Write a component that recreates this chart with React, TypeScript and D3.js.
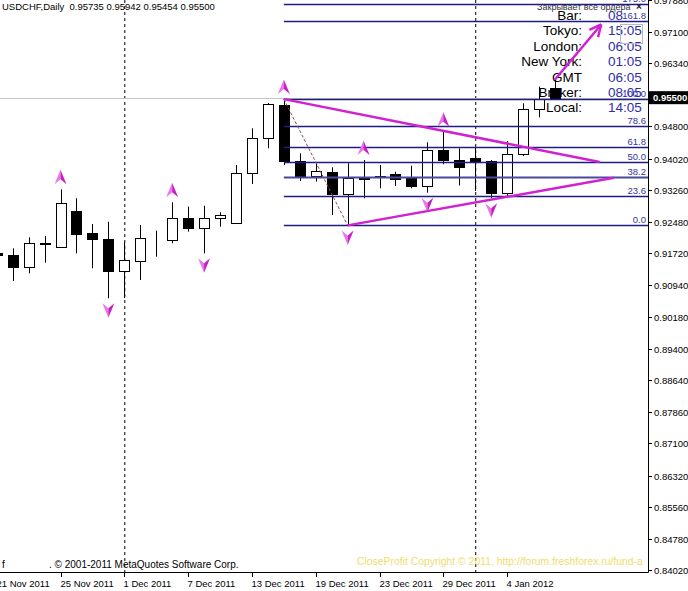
import React, { useRef, useEffect } from 'react';
import * as d3 from 'd3';

// bar dates (weekdays only)
const barDates = [
  '21 Nov 2011', '22 Nov 2011', '23 Nov 2011', '24 Nov 2011', '25 Nov 2011',
  '28 Nov 2011', '29 Nov 2011', '30 Nov 2011', '1 Dec 2011', '2 Dec 2011',
  '5 Dec 2011', '6 Dec 2011', '7 Dec 2011', '8 Dec 2011', '9 Dec 2011',
  '12 Dec 2011', '13 Dec 2011', '14 Dec 2011', '15 Dec 2011', '16 Dec 2011',
  '19 Dec 2011', '20 Dec 2011', '21 Dec 2011', '22 Dec 2011', '23 Dec 2011',
  '26 Dec 2011', '27 Dec 2011', '28 Dec 2011', '29 Dec 2011', '30 Dec 2011',
  '2 Jan 2012', '3 Jan 2012', '4 Jan 2012', '5 Jan 2012', '6 Jan 2012', '9 Jan 2012',
];

const opens = [0.91727, 0.91679, 0.91380, 0.91958, 0.91880, 0.92747, 0.92206, 0.92067, 0.91290, 0.91540,
  0.92043, 0.92043, 0.92570, 0.92327, 0.92570, 0.92463, 0.93678, 0.94513, 0.95322, 0.93962,
  0.93605, 0.93702, 0.93153, 0.93573, 0.93602, 0.93653, 0.93556, 0.93362, 0.94229, 0.93986,
  0.94042, 0.93969, 0.93177, 0.94132, 0.95218, 0.95735];
const highs = [0.91800, 0.91841, 0.92109, 0.92140, 0.93274, 0.93056, 0.92432, 0.92487, 0.91987, 0.92407,
  0.92269, 0.92959, 0.92852, 0.92876, 0.92716, 0.93865, 0.94756, 0.95371, 0.95465, 0.94149,
  0.93906, 0.93809, 0.93906, 0.93986, 0.93865, 0.93702, 0.93848, 0.94416, 0.94674, 0.94270,
  0.94285, 0.93986, 0.94448, 0.95363, 0.95767, 0.95942];
const lows = [0.91606, 0.91047, 0.91234, 0.91492, 0.91873, 0.91720, 0.91356, 0.90627, 0.90634, 0.91071,
  0.91637, 0.91963, 0.92245, 0.91720, 0.92366, 0.92463, 0.93403, 0.94270, 0.93865, 0.93476,
  0.93459, 0.92650, 0.92398, 0.93056, 0.93299, 0.93355, 0.93299, 0.93192, 0.93882, 0.93367,
  0.93233, 0.93056, 0.93112, 0.94083, 0.95023, 0.95454];
const closes = [0.91679, 0.91380, 0.91963, 0.91934, 0.92934, 0.92189, 0.92060, 0.91290, 0.91557, 0.92084,
  0.92031, 0.92570, 0.92327, 0.92570, 0.92650, 0.93663, 0.94513, 0.95347, 0.93969, 0.93566,
  0.93726, 0.93153, 0.93542, 0.93532, 0.93566, 0.93525, 0.93355, 0.94229, 0.93986, 0.93809,
  0.93962, 0.93177, 0.94132, 0.95218, 0.95468, 0.95500];

const priceTicks = ['0.97880', '0.97100', '0.96340', '0.95560', '0.94800', '0.94020', '0.93260', '0.92480',
  '0.91720', '0.90940', '0.90180', '0.89400', '0.88640', '0.87860', '0.87100', '0.86320',
  '0.85560', '0.84780', '0.84020'];

const fractalUp = [4, 11, 18, 23, 28];
const fractalDown = [7, 13, 22, 27, 31];

// fibo from bar 18 high to bar 22 low
const fibLevels = [0, 23.6, 38.2, 50.0, 61.8, 78.6, 100.0, 161.8, 175.0];
const fibHighBar = 18;
const fibLowBar = 22;

// triangle trend lines [barIndex, price]
const upperLine: [number, number][] = [[18, 0.95465], [37.8, 0.93938]];
const lowerLine: [number, number][] = [[22, 0.92398], [38.7, 0.93556]];
const bigArrow: [number, number][] = [[35, 0.95942], [37.9, 0.97278]];

const clockLabels = ['Bar:', 'Tokyo:', 'London:', 'New York:', 'GMT', 'Broker:', 'Local:'];
const clockValues = ['08', '15:05', '06:05', '01:05', '06:05', '08:05', '14:05'];

const App: React.FC = () => {
  const svgRef = useRef<SVGSVGElement | null>(null);
  const width = 688;
  const height = 591;

  useEffect(() => {
    if (!svgRef.current) return;
    const svg = d3.select(svgRef.current);
    svg.selectAll('*').remove();

    const plotRight = 648;
    const plotBottom = 572;
    const font = "'Liberation Sans', Arial, sans-serif";
    const colors = {
      fib: '#1e1e82',
      fibText: '#3434a6',
      magenta: '#d022d0',
      clockText: '#2e2ea8',
      trend: '#8b4a4a',
    };

    const x = d3.scaleLinear().domain([0, 35]).range([-3.3, 555]);
    const y = d3.scaleLinear().domain([0.8402, 0.971]).range([570.3, 31.8]);
    const bodyW = 10;

    svg.attr('width', width).attr('height', height);
    svg.append('rect').attr('width', width).attr('height', height).attr('fill', '#fff');

    svg.append('defs').append('clipPath').attr('id', 'plotclip')
      .append('rect').attr('x', 0).attr('y', 0).attr('width', plotRight).attr('height', plotBottom);

    const g = svg.append('g').attr('clip-path', 'url(#plotclip)');

    // month separators
    barDates.forEach((d, i) => {
      if (i === 0) return;
      const m = d.split(' ')[1];
      const pm = barDates[i - 1].split(' ')[1];
      if (m !== pm) {
        g.append('line')
          .attr('x1', x(i) + 0.5).attr('x2', x(i) + 0.5)
          .attr('y1', 0).attr('y2', plotBottom)
          .attr('stroke', '#000').attr('stroke-width', 1)
          .attr('stroke-dasharray', '3,3');
      }
    });

    // bid line
    const last = closes[closes.length - 1];
    g.append('line')
      .attr('x1', 0).attr('x2', plotRight)
      .attr('y1', Math.round(y(last)) + 0.5).attr('y2', Math.round(y(last)) + 0.5)
      .attr('stroke', '#c4c4c4').attr('stroke-width', 1);

    // clock panel
    clockLabels.forEach((lab, i) => {
      const by = 20 + i * 15.4;
      g.append('text')
        .attr('x', 582).attr('y', by)
        .attr('text-anchor', 'end')
        .attr('font-family', font).attr('font-size', 13.5)
        .attr('fill', '#000')
        .text(lab);
      g.append('text')
        .attr('x', 608).attr('y', by)
        .attr('font-family', font).attr('font-size', 13.5)
        .attr('fill', colors.clockText)
        .text(clockValues[i]);
    });
    g.append('rect')
      .attr('x', 620.5).attr('y', 24.5).attr('width', 22).attr('height', 19)
      .attr('fill', 'none').attr('stroke', '#b8b8c8').attr('stroke-width', 1);
    g.append('text')
      .attr('x', 537).attr('y', 10)
      .attr('font-family', font).attr('font-size', 9)
      .attr('fill', '#333')
      .text('Закрывает все ордера');
    g.append('text')
      .attr('x', 636).attr('y', 10)
      .attr('font-family', font).attr('font-size', 10).attr('font-weight', 'bold')
      .attr('fill', '#222')
      .text('×');

    // candles
    opens.forEach((o, i) => {
      const c = closes[i];
      const cx = Math.round(x(i)) + 0.5;
      g.append('line')
        .attr('x1', cx).attr('x2', cx)
        .attr('y1', y(highs[i])).attr('y2', y(lows[i]))
        .attr('stroke', '#000').attr('stroke-width', 1);
      const top = Math.round(y(Math.max(o, c))) + 0.5;
      const bot = Math.round(y(Math.min(o, c))) + 0.5;
      g.append('rect')
        .attr('x', cx - bodyW / 2).attr('y', top)
        .attr('width', bodyW).attr('height', Math.max(0, bot - top))
        .attr('fill', c >= o ? '#fff' : '#000')
        .attr('stroke', '#000').attr('stroke-width', 1);
    });

    // fibonacci
    const fHigh = highs[fibHighBar];
    const fLow = lows[fibLowBar];
    fibLevels.forEach((lv) => {
      const p = fLow + (fHigh - fLow) * lv / 100;
      const ly = Math.round(y(p)) + 0.5;
      g.append('line')
        .attr('x1', x(fibHighBar)).attr('x2', plotRight)
        .attr('y1', ly).attr('y2', ly)
        .attr('stroke', lv === 38.2 ? '#4a4a9a' : colors.fib)
        .attr('stroke-width', lv === 38.2 ? 2 : 1.3);
      g.append('text')
        .attr('x', 646).attr('y', ly - 2.5)
        .attr('text-anchor', 'end')
        .attr('font-family', font).attr('font-size', 9.5)
        .attr('fill', colors.fibText)
        .text(lv.toFixed(1));
    });
    g.append('line')
      .attr('x1', x(fibHighBar)).attr('y1', y(fHigh))
      .attr('x2', x(fibLowBar)).attr('y2', y(fLow))
      .attr('stroke', colors.trend).attr('stroke-width', 1)
      .attr('stroke-dasharray', '3,2');

    // triangle
    [upperLine, lowerLine].forEach((ln) => {
      g.append('line')
        .attr('x1', x(ln[0][0])).attr('y1', y(ln[0][1]))
        .attr('x2', x(ln[1][0])).attr('y2', y(ln[1][1]))
        .attr('stroke', colors.magenta).attr('stroke-width', 2.5);
    });

    // fractals
    function fractal(cx: number, cy: number, up: boolean) {
      const s = up ? 1 : -1;
      const fg = g.append('g').attr('transform', `translate(${cx},${cy}) scale(1,${s})`);
      fg.append('path').attr('d', 'M0,-7.5 L0,2 L-6,7 Z').attr('fill', '#e878e8');
      fg.append('path').attr('d', 'M0,-7.5 L6,7 L0,2 Z').attr('fill', '#c81ec8');
    }
    fractalUp.forEach((i) => fractal(x(i), y(highs[i]) - 12, true));
    fractalDown.forEach((i) => fractal(x(i), y(lows[i]) + 12, false));

    // big arrow
    const ax1 = x(bigArrow[0][0]), ay1 = y(bigArrow[0][1]);
    const ax2 = x(bigArrow[1][0]), ay2 = y(bigArrow[1][1]);
    g.append('line')
      .attr('x1', ax1).attr('y1', ay1).attr('x2', ax2).attr('y2', ay2)
      .attr('stroke', colors.magenta).attr('stroke-width', 2.5);
    const ang = Math.atan2(ay2 - ay1, ax2 - ax1);
    [-0.45, 0.45].forEach((d) => {
      g.append('line')
        .attr('x1', ax2).attr('y1', ay2)
        .attr('x2', ax2 - 13 * Math.cos(ang + d)).attr('y2', ay2 - 13 * Math.sin(ang + d))
        .attr('stroke', colors.magenta).attr('stroke-width', 2.5);
    });

    // axes
    svg.append('line')
      .attr('x1', plotRight + 0.5).attr('x2', plotRight + 0.5)
      .attr('y1', 0).attr('y2', plotBottom + 0.5)
      .attr('stroke', '#000');
    svg.append('line')
      .attr('x1', 0).attr('x2', plotRight + 0.5)
      .attr('y1', plotBottom + 0.5).attr('y2', plotBottom + 0.5)
      .attr('stroke', '#000');

    const py = y(last);
    priceTicks.forEach((t) => {
      const ty = Math.round(y(+t)) + 0.5;
      svg.append('line')
        .attr('x1', plotRight).attr('x2', plotRight + 4)
        .attr('y1', ty).attr('y2', ty)
        .attr('stroke', '#000');
      // label hidden under the current price box
      if (Math.abs(ty - py) < 10) return;
      svg.append('text')
        .attr('x', plotRight + 6).attr('y', ty + 3.5)
        .attr('font-family', font).attr('font-size', 9.5)
        .attr('fill', '#000')
        .text(t);
    });

    // current price box
    svg.append('rect')
      .attr('x', plotRight + 1).attr('y', py - 6.5)
      .attr('width', width - plotRight - 1).attr('height', 13)
      .attr('fill', '#000');
    svg.append('text')
      .attr('x', plotRight + 5).attr('y', py + 3.5)
      .attr('font-family', font).attr('font-size', 9.5).attr('font-weight', 'bold')
      .attr('fill', '#fff')
      .text(last.toFixed(5));

    barDates.forEach((d, i) => {
      if (i % 4 !== 0) return;
      const tx = Math.round(x(i)) + 0.5;
      svg.append('line')
        .attr('x1', tx).attr('x2', tx)
        .attr('y1', plotBottom).attr('y2', plotBottom + 5)
        .attr('stroke', '#000');
      svg.append('text')
        .attr('x', tx - 1).attr('y', plotBottom + 15)
        .attr('font-family', font).attr('font-size', 9.5)
        .attr('fill', '#000')
        .text(d);
    });

    // header & footers
    svg.append('text')
      .attr('x', 2).attr('y', 10)
      .attr('font-family', font).attr('font-size', 9.5)
      .attr('fill', '#000')
      .attr('xml:space', 'preserve')
      .text(`USDCHF,Daily  ${opens[35].toFixed(5)} ${highs[35].toFixed(5)} ${lows[35].toFixed(5)} ${closes[35].toFixed(5)}`);
    svg.append('text')
      .attr('x', 2).attr('y', 568)
      .attr('font-family', font).attr('font-size', 10)
      .attr('fill', '#000')
      .text('f');
    svg.append('text')
      .attr('x', 49).attr('y', 568)
      .attr('font-family', font).attr('font-size', 10)
      .attr('fill', '#000')
      .text('. © 2001-2011 MetaQuotes Software Corp.');
    svg.append('text')
      .attr('x', 357).attr('y', 565)
      .attr('font-family', font).attr('font-size', 10.4)
      .attr('fill', '#f2dc6c')
      .text('CloseProfit Copyright © 2011, http://forum.freshforex.ru/fund-a');
  }, []);

  return (
    <svg ref={svgRef} style={{ position: 'absolute', left: 0, top: 0, display: 'block' }}></svg>
  );
};

export default App;
